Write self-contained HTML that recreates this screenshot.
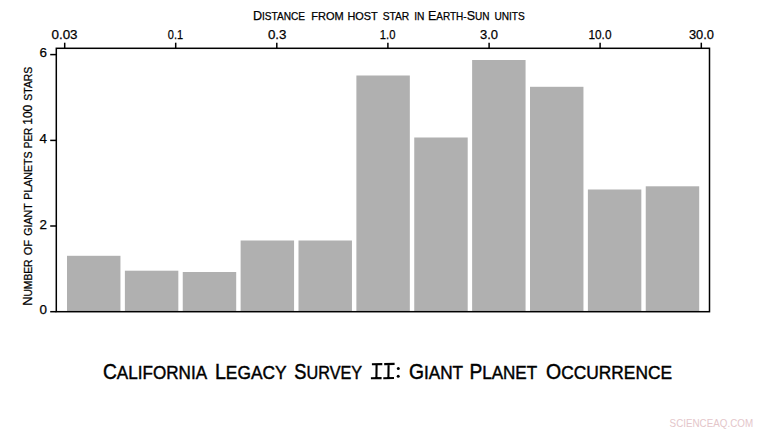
<!DOCTYPE html><html><head><meta charset="utf-8"><style>html,body{margin:0;padding:0;background:#fff;overflow:hidden}svg{display:block}text{font-family:"Liberation Sans",sans-serif;fill:#000}.t{stroke:#000;stroke-width:0.45}.t2{stroke:#000;stroke-width:0.25}.t3{stroke:#000;stroke-width:0.25}</style></head><body>
<svg width="768" height="432" viewBox="0 0 768 432">
<rect x="67.00" y="255.80" width="53.45" height="55.90" fill="#b0b0b0"/>
<rect x="124.88" y="270.70" width="53.45" height="41.00" fill="#b0b0b0"/>
<rect x="182.75" y="272.00" width="53.45" height="39.70" fill="#b0b0b0"/>
<rect x="240.62" y="240.50" width="53.45" height="71.20" fill="#b0b0b0"/>
<rect x="298.50" y="240.50" width="53.45" height="71.20" fill="#b0b0b0"/>
<rect x="356.38" y="75.50" width="53.45" height="236.20" fill="#b0b0b0"/>
<rect x="414.25" y="137.50" width="53.45" height="174.20" fill="#b0b0b0"/>
<rect x="472.12" y="60.00" width="53.45" height="251.70" fill="#b0b0b0"/>
<rect x="530.00" y="86.80" width="53.45" height="224.90" fill="#b0b0b0"/>
<rect x="587.88" y="189.50" width="53.45" height="122.20" fill="#b0b0b0"/>
<rect x="645.75" y="186.30" width="53.45" height="125.40" fill="#b0b0b0"/>
<rect x="56.30" y="48.30" width="653.20" height="263.40" fill="none" stroke="#000" stroke-width="1.5"/>
<line x1="64.7" y1="42.7" x2="64.7" y2="48.3" stroke="#000" stroke-width="1.5"/>
<line x1="175.7" y1="42.7" x2="175.7" y2="48.3" stroke="#000" stroke-width="1.5"/>
<line x1="276.8" y1="42.7" x2="276.8" y2="48.3" stroke="#000" stroke-width="1.5"/>
<line x1="387.9" y1="42.7" x2="387.9" y2="48.3" stroke="#000" stroke-width="1.5"/>
<line x1="489.1" y1="42.7" x2="489.1" y2="48.3" stroke="#000" stroke-width="1.5"/>
<line x1="600.1" y1="42.7" x2="600.1" y2="48.3" stroke="#000" stroke-width="1.5"/>
<line x1="701.3" y1="42.7" x2="701.3" y2="48.3" stroke="#000" stroke-width="1.5"/>
<text x="51.47" y="38.7" textLength="26.11" lengthAdjust="spacingAndGlyphs" class="t3"><tspan font-size="13.40">0</tspan><tspan font-size="13.40">.</tspan><tspan font-size="13.40">03</tspan></text>
<text x="167.79" y="38.7" textLength="15.29" lengthAdjust="spacingAndGlyphs" class="t3"><tspan font-size="13.40">0</tspan><tspan font-size="13.40">.</tspan><tspan font-size="13.40">1</tspan></text>
<text x="267.90" y="38.7" textLength="18.57" lengthAdjust="spacingAndGlyphs" class="t3"><tspan font-size="13.40">0</tspan><tspan font-size="13.40">.</tspan><tspan font-size="13.40">3</tspan></text>
<text x="379.83" y="38.7" textLength="15.66" lengthAdjust="spacingAndGlyphs" class="t3"><tspan font-size="13.40">1</tspan><tspan font-size="13.40">.</tspan><tspan font-size="13.40">0</tspan></text>
<text x="479.97" y="38.7" textLength="18.08" lengthAdjust="spacingAndGlyphs" class="t3"><tspan font-size="13.40">3</tspan><tspan font-size="13.40">.</tspan><tspan font-size="13.40">0</tspan></text>
<text x="588.47" y="38.7" textLength="23.02" lengthAdjust="spacingAndGlyphs" class="t3"><tspan font-size="13.40">10</tspan><tspan font-size="13.40">.</tspan><tspan font-size="13.40">0</tspan></text>
<text x="688.95" y="38.7" textLength="25.09" lengthAdjust="spacingAndGlyphs" class="t3"><tspan font-size="13.40">30</tspan><tspan font-size="13.40">.</tspan><tspan font-size="13.40">0</tspan></text>
<line x1="50.2" y1="311.7" x2="56.3" y2="311.7" stroke="#000" stroke-width="1.5"/>
<text class="t3" x="47.0" y="314.4" font-size="13.4" text-anchor="end">0</text>
<line x1="50.2" y1="226.0" x2="56.3" y2="226.0" stroke="#000" stroke-width="1.5"/>
<text class="t3" x="47.0" y="228.7" font-size="13.4" text-anchor="end">2</text>
<line x1="50.2" y1="140.4" x2="56.3" y2="140.4" stroke="#000" stroke-width="1.5"/>
<text class="t3" x="47.0" y="143.1" font-size="13.4" text-anchor="end">4</text>
<line x1="50.2" y1="54.6" x2="56.3" y2="54.6" stroke="#000" stroke-width="1.5"/>
<text class="t3" x="47.0" y="57.3" font-size="13.4" text-anchor="end">6</text>
<text x="252.90" y="19.5" textLength="52.20" lengthAdjust="spacingAndGlyphs" class="t2"><tspan font-size="13.60">D</tspan><tspan font-size="10.88">ISTANCE</tspan></text>
<text x="311.28" y="19.5" textLength="32.41" lengthAdjust="spacingAndGlyphs" class="t2"><tspan font-size="10.88">FROM</tspan></text>
<text x="347.43" y="19.5" textLength="30.28" lengthAdjust="spacingAndGlyphs" class="t2"><tspan font-size="10.88">HOST</tspan></text>
<text x="382.63" y="19.5" textLength="26.68" lengthAdjust="spacingAndGlyphs" class="t2"><tspan font-size="10.88">STAR</tspan></text>
<text x="414.22" y="19.5" textLength="10.25" lengthAdjust="spacingAndGlyphs" class="t2"><tspan font-size="10.88">IN</tspan></text>
<text x="427.93" y="19.5" textLength="61.59" lengthAdjust="spacingAndGlyphs" class="t2"><tspan font-size="13.60">E</tspan><tspan font-size="10.88">ARTH-</tspan><tspan font-size="13.60">S</tspan><tspan font-size="10.88">UN</tspan></text>
<text x="494.39" y="19.5" textLength="30.35" lengthAdjust="spacingAndGlyphs" class="t2"><tspan font-size="10.88">UNITS</tspan></text>
<text x="102.94" y="379.2" textLength="104.14" lengthAdjust="spacingAndGlyphs" class="t"><tspan font-size="21.50">C</tspan><tspan font-size="19.14">ALIFORNIA</tspan></text>
<text x="215.01" y="379.2" textLength="71.60" lengthAdjust="spacingAndGlyphs" class="t"><tspan font-size="21.50">L</tspan><tspan font-size="19.14">EGACY</tspan></text>
<text x="294.37" y="379.2" textLength="67.69" lengthAdjust="spacingAndGlyphs" class="t"><tspan font-size="21.50">S</tspan><tspan font-size="19.14">URVEY</tspan></text>
<text x="408.88" y="379.2" textLength="54.16" lengthAdjust="spacingAndGlyphs" class="t"><tspan font-size="21.50">G</tspan><tspan font-size="19.14">IANT</tspan></text>
<text x="469.41" y="379.2" textLength="67.73" lengthAdjust="spacingAndGlyphs" class="t"><tspan font-size="21.50">P</tspan><tspan font-size="19.14">LANET</tspan></text>
<text x="545.98" y="379.2" textLength="126.06" lengthAdjust="spacingAndGlyphs" class="t"><tspan font-size="21.50">O</tspan><tspan font-size="19.14">CCURRENCE</tspan></text>
<text transform="translate(31.6,305.78) rotate(-90)" x="0" y="0" textLength="46.29" lengthAdjust="spacingAndGlyphs" class="t2"><tspan font-size="13.60">N</tspan><tspan font-size="10.88">UMBER</tspan></text>
<text transform="translate(31.6,255.33) rotate(-90)" x="0" y="0" textLength="15.41" lengthAdjust="spacingAndGlyphs" class="t2"><tspan font-size="10.88">OF</tspan></text>
<text transform="translate(31.6,235.73) rotate(-90)" x="0" y="0" textLength="32.42" lengthAdjust="spacingAndGlyphs" class="t2"><tspan font-size="10.88">GIANT</tspan></text>
<text transform="translate(31.6,199.64) rotate(-90)" x="0" y="0" textLength="48.22" lengthAdjust="spacingAndGlyphs" class="t2"><tspan font-size="10.88">PLANETS</tspan></text>
<text transform="translate(31.6,148.18) rotate(-90)" x="0" y="0" textLength="20.36" lengthAdjust="spacingAndGlyphs" class="t2"><tspan font-size="10.88">PER</tspan></text>
<text transform="translate(31.6,124.74) rotate(-90)" x="0" y="0" textLength="19.89" lengthAdjust="spacingAndGlyphs" class="t2"><tspan font-size="13.60">100</tspan></text>
<text transform="translate(31.6,100.66) rotate(-90)" x="0" y="0" textLength="33.97" lengthAdjust="spacingAndGlyphs" class="t2"><tspan font-size="10.88">STARS</tspan></text>
<path d="M371.9 364.3 L382.3 364.1 M376.6 364.3 L376.4 378.3 M370.9 378.3 L381.6 378.1" stroke="#000" stroke-width="2.1" fill="none" stroke-linecap="butt"/><path d="M384.2 364.1 L394.6 363.9 M388.6 364.1 L388.4 378.2 M383.3 378.2 L394.0 378.0" stroke="#000" stroke-width="2.1" fill="none" stroke-linecap="butt"/><circle cx="398.3" cy="368.6" r="1.5" fill="#000"/><circle cx="398.2" cy="376.2" r="1.5" fill="#000"/>
<text x="669.6" y="427" font-size="10.8" style="fill:#e4c6ca" textLength="83.5" lengthAdjust="spacingAndGlyphs">SCIENCEAQ.COM</text>
</svg></body></html>
